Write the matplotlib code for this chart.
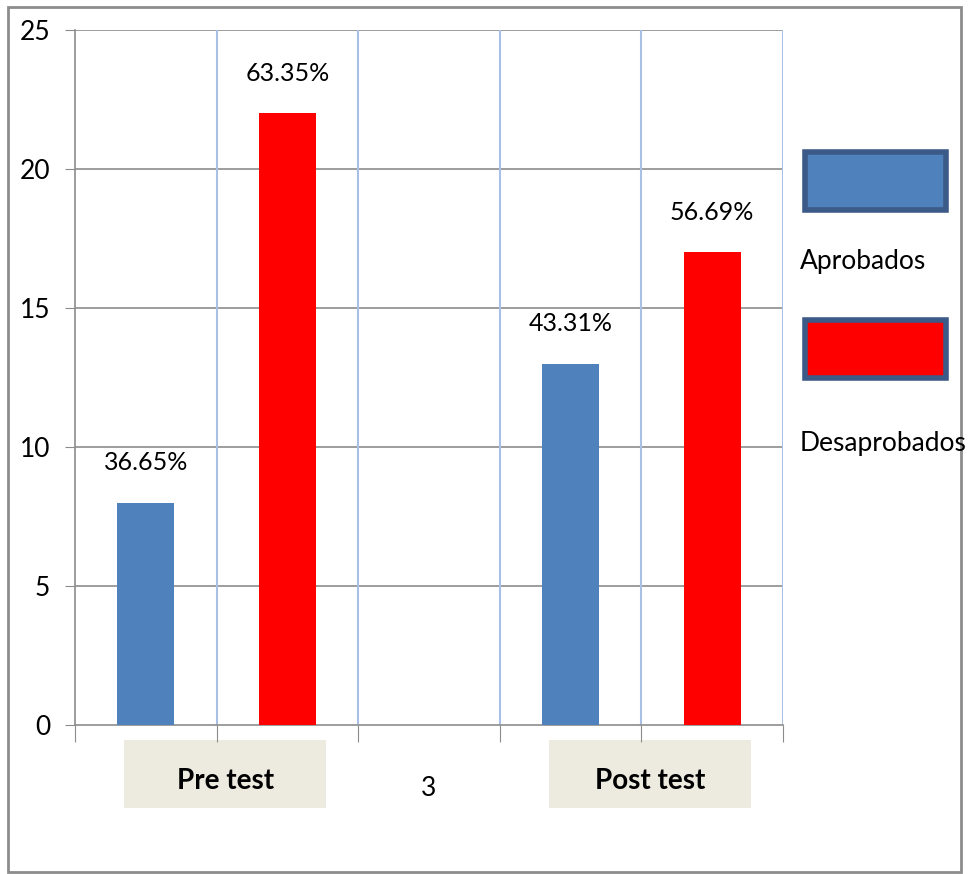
import matplotlib.pyplot as plt
import matplotlib.patches as patches
from matplotlib.transforms import blended_transform_factory

# values
groups = ["Pre test", "3", "Post test"]
group_pos = [0.56, 2, 3.56]
aprobados = [8, 13]
desaprobados = [22, 17]
aprob_pct = ["36.65%", "43.31%"]
desaprob_pct = ["63.35%", "56.69%"]
aprob_x = [0, 3]
desaprob_x = [1, 4]
yticks = [0, 5, 10, 15, 20, 25]

blue = "#4f81bd"
red = "#ff0000"
edge = "#3b5a88"

plt.rcParams['font.family'] = ['Lato', 'DejaVu Sans']

W, H = 972, 874
fig = plt.figure(figsize=(W / 100, H / 100), dpi=100)

# outer frame
fig.patches.append(patches.Rectangle((8 / W, 1 - 872 / H), 953 / W, 865 / H,
                                     transform=fig.transFigure, fill=False,
                                     edgecolor="#8c8c8c", linewidth=2))

ax = fig.add_axes([75 / W, 1 - 725 / H, 708 / W, 695 / H])
ax.set_xlim(-0.5, 4.5)
ax.set_ylim(0, 25)

ax.bar(aprob_x, aprobados, width=0.4, color=blue, zorder=3)
ax.bar(desaprob_x, desaprobados, width=0.4, color=red, zorder=3)

for x, v, t in zip(aprob_x + desaprob_x, aprobados + desaprobados, aprob_pct + desaprob_pct):
    ax.annotate(t, (x, v), xytext=(0, 29), textcoords="offset points",
                ha="center", va="center", fontsize=18)

# grid
for y in yticks[1:]:
    ax.axhline(y, color="#8c8c8c", linewidth=1.2, zorder=1)
for x in [0.5, 1.5, 2.5, 3.5, 4.5]:
    ax.axvline(x, color="#a9c0e6", linewidth=1.5, zorder=1)

for s in ["top", "right"]:
    ax.spines[s].set_visible(False)
ax.spines["left"].set_color("#8c8c8c")
ax.spines["bottom"].set_color("#8c8c8c")
ax.spines["left"].set_linewidth(1.2)
ax.spines["bottom"].set_linewidth(1.2)

ax.set_yticks(yticks)
ax.set_yticklabels([str(v) for v in yticks], fontsize=19)
ax.tick_params(axis="y", length=7, color="#8c8c8c", pad=11)
ax.set_xticks([-0.5, 0.5, 1.5, 2.5, 3.5, 4.5])
ax.set_xticklabels([])
ax.tick_params(axis="x", length=12, color="#8c8c8c")

trans = blended_transform_factory(ax.transData, ax.transAxes)
for name, x in zip(groups, group_pos):
    if name == "3":
        ax.text(x, -0.092, name, transform=trans, ha="center", va="center", fontsize=19)
        continue
    ax.add_patch(patches.Rectangle((x - 0.713, -0.119), 1.426, 0.098, transform=trans,
                                   facecolor="#edebe0", edgecolor="none", clip_on=False))
    ax.text(x, -0.080, name, transform=trans, ha="center", va="center",
            fontsize=20, fontweight="bold")

# legend
for (y0, c, label, ly) in [(150, blue, "Aprobados", 262), (318, red, "Desaprobados", 443)]:
    fig.patches.append(patches.Rectangle((805 / W, 1 - (y0 + 60) / H), 141 / W, 58 / H,
                                         transform=fig.transFigure, facecolor=c,
                                         edgecolor=edge, linewidth=4))
    fig.text(800 / W, 1 - ly / H, label, ha="left", va="center", fontsize=19)

fig.savefig("out.png", dpi=100)
